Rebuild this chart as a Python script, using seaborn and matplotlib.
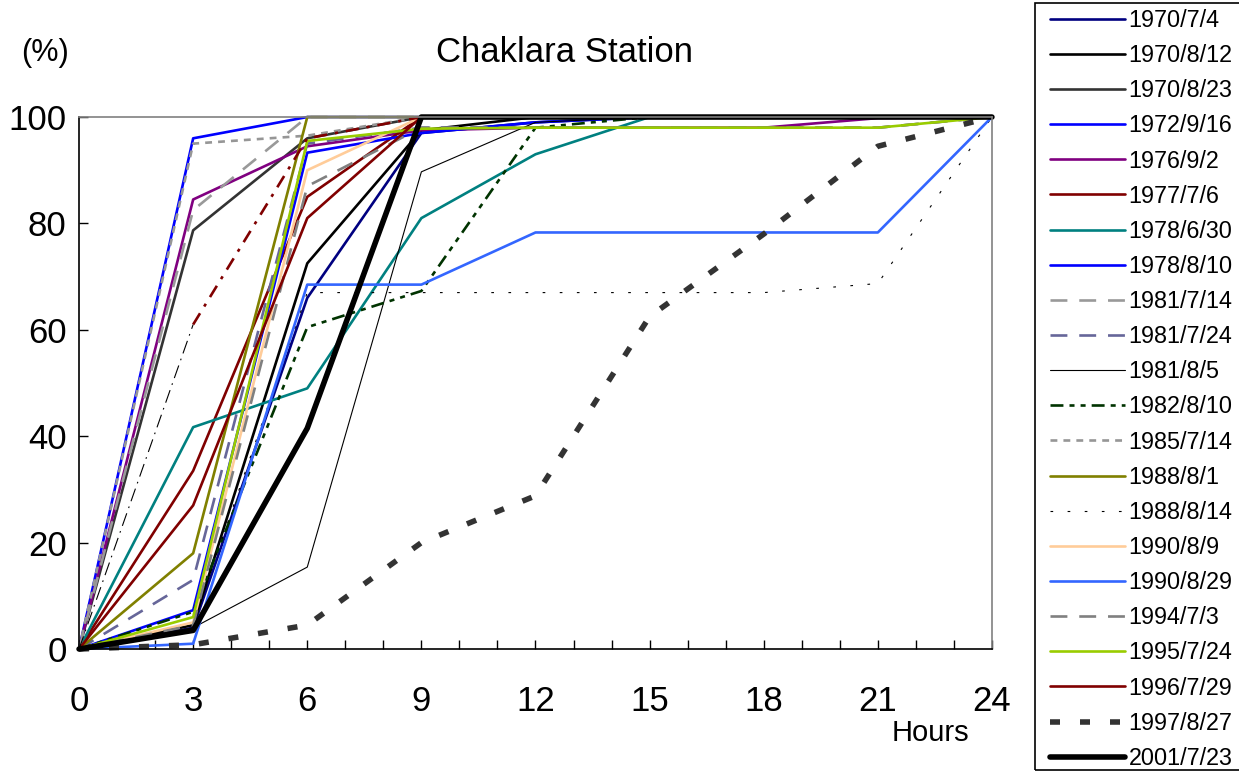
import numpy as np
import pandas as pd
import seaborn as sns
import matplotlib.pyplot as plt
from matplotlib.patches import Rectangle

# ========== 数据 ==========
hours = [0, 3, 6, 9, 12, 15, 18, 21, 24]

event_names = [
    '1970/7/4', '1970/8/12', '1970/8/23', '1972/9/16', '1976/9/2',
    '1977/7/6', '1978/6/30', '1978/8/10', '1981/7/14', '1981/7/24',
    '1981/8/5', '1982/8/10', '1985/7/14', '1988/8/1', '1988/8/14',
    '1990/8/9', '1990/8/29', '1994/7/3', '1995/7/24', '1996/7/29',
    '1997/8/27', '2001/7/23',
]

v_1970_7_4 = [0, 4, 66, 97, 99, 100, 100, 100, 100]
v_1970_8_12 = [0, 4.5, 72.5, 97.5, 100, 100, 100, 100, 100]
v_1970_8_23 = [0, 78.7, 96, 100, 100, 100, 100, 100, 100]
v_1972_9_16 = [0, 96, 100, 100, 100, 100, 100, 100, 100]
v_1976_9_2 = [0, 84.5, 94.5, 97.5, 98, 98, 98, 99.8, 100]
v_1977_7_6 = [0, 33.5, 85, 100, 100, 100, 100, 100, 100]
v_1978_6_30 = [0, 41.7, 49, 81, 93, 100, 100, 100, 100]
v_1978_8_10 = [0, 7.3, 93.3, 97, 99, 100, 100, 100, 100]
v_1981_7_14 = [0, 82.5, 100, 100, 100, 100, 100, 100, 100]
v_1981_7_24 = [0, 13, 95, 98, 98, 98, 98, 98, 100]
v_1981_8_5 = [0, 4, 15.4, 89.7, 99, 100, 100, 100, 100]
v_1982_8_10 = [0, 7, 60.5, 67.3, 98, 100, 100, 100, 100]
v_1985_7_14 = [0, 95, 96.5, 100, 100, 100, 100, 100, 100]
v_1988_8_1 = [0, 18, 100, 100, 100, 100, 100, 100, 100]
v_1988_8_14 = [0, 5, 67, 67, 67, 67, 67, 68.7, 100]
v_1990_8_9 = [0, 5, 90, 100, 100, 100, 100, 100, 100]
v_1990_8_29 = [0, 1, 68.5, 68.5, 78.3, 78.3, 78.3, 78.3, 100]
v_1994_7_3 = [0, 4.5, 87, 98, 98, 98, 98, 98, 100]
v_1995_7_24 = [0, 6, 95.5, 97.8, 98, 98, 98, 98, 100]
v_1996_7_29 = [0, 27, 81, 100, 100, 100, 100, 100, 100]
v_1997_8_27 = [0, 0.8, 4.5, 20, 28.8, 62.5, 78, 94.5, 100]
v_2001_7_23 = [0, 3.5, 41.5, 100, 100, 100, 100, 100, 100]

event_values = [
    v_1970_7_4, v_1970_8_12, v_1970_8_23, v_1972_9_16, v_1976_9_2,
    v_1977_7_6, v_1978_6_30, v_1978_8_10, v_1981_7_14, v_1981_7_24,
    v_1981_8_5, v_1982_8_10, v_1985_7_14, v_1988_8_1, v_1988_8_14,
    v_1990_8_9, v_1990_8_29, v_1994_7_3, v_1995_7_24, v_1996_7_29,
    v_1997_8_27, v_2001_7_23,
]

# 图例中没有的一条点划线（前段细黑、后段暗红）
extra_hours_a = [0, 3]
extra_vals_a = [0, 61]
extra_hours_b = [3, 6, 9]
extra_vals_b = [61, 96, 100]

df = pd.DataFrame({
    'hour': hours * len(event_names),
    'value': [v for vals in event_values for v in vals],
    'event': [n for n in event_names for _ in hours],
})

# ========== 线型 ==========
LW = 1.9
dash_long = (0, (6.4, 4.5))
line_styles = {
    '1970/7/4': ('#000080', LW, '-'),
    '1970/8/12': ('#000000', LW, '-'),
    '1970/8/23': ('#333333', LW, '-'),
    '1972/9/16': ('#0000FF', LW, '-'),
    '1976/9/2': ('#800080', LW, '-'),
    '1977/7/6': ('#800000', LW, '-'),
    '1978/6/30': ('#008080', LW, '-'),
    '1978/8/10': ('#0000FF', LW, '-'),
    '1981/7/14': ('#999999', LW, dash_long),
    '1981/7/24': ('#666699', LW, dash_long),
    '1981/8/5': ('#000000', 0.8, '-'),
    '1982/8/10': ('#003300', LW, (0, (4.9, 2.3, 1.9, 2.3, 1.9, 2.3))),
    '1985/7/14': ('#969696', LW, (0, (2.6, 2.3))),
    '1988/8/1': ('#808000', LW, '-'),
    '1988/8/14': ('#000000', 0.8, (0, (2.4, 13))),
    '1990/8/9': ('#FFCC99', LW, '-'),
    '1990/8/29': ('#3366FF', LW, '-'),
    '1994/7/3': ('#808080', LW, dash_long),
    '1995/7/24': ('#99CC00', LW, '-'),
    '1996/7/29': ('#800000', LW, '-'),
    '1997/8/27': ('#333333', 4, (0, (1.8, 3.6))),
    '2001/7/23': ('#000000', 4, '-'),
}

# ========== 绘图 ==========
sns.set_style('ticks')
plt.rcParams['font.family'] = ['Liberation Sans', 'DejaVu Sans']
plt.rcParams['text.color'] = 'black'
plt.rcParams['xtick.color'] = 'black'
plt.rcParams['ytick.color'] = 'black'
plt.rcParams['axes.labelcolor'] = 'black'

fig, ax = plt.subplots(figsize=(12.39, 7.72), dpi=100)
fig.subplots_adjust(left=0.0638, right=0.8006, bottom=0.1593, top=0.8484)

handles = []
for name in event_names:
    color, lw, ls = line_styles[name]
    sub = df[df['event'] == name]
    if name == '1997/8/27':
        # 图例外的点划线画在它之前
        sns.lineplot(x=extra_hours_a, y=extra_vals_a, ax=ax, color='#000000',
                     linewidth=0.8, linestyle=(0, (12, 5, 1.5, 5)), clip_on=False)
        sns.lineplot(x=extra_hours_b, y=extra_vals_b, ax=ax, color='#800000',
                     linewidth=LW, linestyle=(0, (5, 3, 1.2, 3)), clip_on=False)
    sns.lineplot(data=sub, x='hour', y='value', ax=ax, color=color, linewidth=lw,
                 linestyle=ls, clip_on=False, label=name)
    handles.append(ax.lines[-1])

if ax.get_legend() is not None:
    ax.get_legend().remove()

ax.set_xlim(0, 24)
ax.set_ylim(0, 100)
ax.set_xticks(range(0, 25, 3))
ax.set_xticks(range(0, 25), minor=True)
ax.set_yticks(range(0, 101, 20))
ax.set_xlabel('')
ax.set_ylabel('')
ax.tick_params(axis='both', which='both', direction='in', length=6.5, width=1,
               color='black', labelcolor='black', labelsize=25)
ax.tick_params(axis='x', pad=26)
ax.tick_params(axis='y', pad=9)
for side in ['left', 'bottom']:
    ax.spines[side].set_color('black')
    ax.spines[side].set_linewidth(1.2)
for side in ['top', 'right']:
    ax.spines[side].set_color('#808080')
    ax.spines[side].set_linewidth(1.2)

fig.text(565 / 1239, 1 - 53 / 772, 'Chaklara Station', fontsize=25,
         ha='center', va='center', color='black')
fig.text(45 / 1239, 1 - 53 / 772, '(%)', fontsize=22, ha='center', va='center',
         color='black')
fig.text(930 / 1239, 1 - 733 / 772, 'Hours', fontsize=21, ha='center', va='center',
         color='black')

# 图例框
fig.patches.append(Rectangle((1035 / 1239, 2 / 772), 0.2, 767 / 772,
                             transform=fig.transFigure, fill=False,
                             edgecolor='black', linewidth=1.2))
fig.legend(handles=handles, labels=event_names, loc='upper left',
           bbox_to_anchor=(1050 / 1239, 1 - 9 / 772), frameon=False,
           borderpad=0, borderaxespad=0, handlelength=3.2, handletextpad=0.17,
           labelspacing=0.52, labelcolor='black',
           prop={'family': ['Liberation Sans', 'DejaVu Sans'], 'size': 16.8})

plt.savefig('out.png', dpi=100)
plt.close()
